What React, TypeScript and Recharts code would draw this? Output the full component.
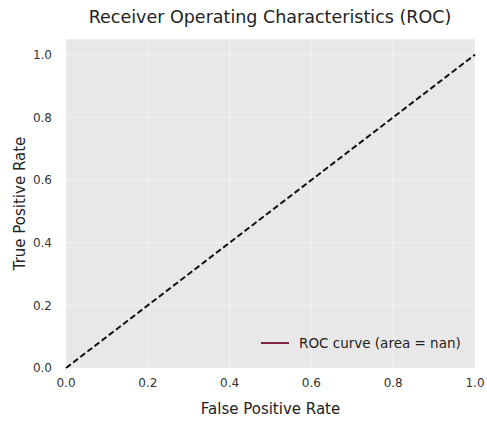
import { LineChart, Line, XAxis, YAxis, CartesianGrid, Legend } from 'recharts';

// ROC curve could not be computed (area = nan), only the chance diagonal is drawn
const fprValues = [0, 1];
const chanceTpr = [0, 1];
const rocTpr: (number | null)[] = [null, null];

const xTicks = [0, 0.2, 0.4, 0.6, 0.8, 1.0];
const yTicks = [0, 0.2, 0.4, 0.6, 0.8, 1.0];

const data = fprValues.map((fpr, i) => ({ fpr, chance: chanceTpr[i], roc: rocTpr[i] }));

const FONT = '"DejaVu Sans", sans-serif';
const fmt = (v: number) => v.toFixed(1);

function RocLegend({ payload }: any) {
  const items = (payload || []).filter((item: any) => item.type !== 'none');
  return (
    <div style={{ display: 'flex', flexDirection: 'column', fontFamily: FONT }}>
      {items.map((item: any) => (
        <div key={item.value} style={{ display: 'flex', alignItems: 'center' }}>
          <svg width={30} height={10}>
            <line x1={0} y1={5} x2={28} y2={5} stroke={item.color} strokeWidth={2} />
          </svg>
          <span style={{ marginLeft: 8, fontSize: 13.5, color: '#222' }}>{item.value}</span>
        </div>
      ))}
    </div>
  );
}

export default function App() {
  return (
    <div style={{ position: 'absolute', left: 0, top: 0, width: 487, height: 421, background: '#fff', fontFamily: FONT }}>
      <LineChart width={487} height={421} data={data} margin={{ top: 39, right: 12, bottom: 0, left: 0 }}>
        <text x={270} y={23} textAnchor="middle" fontSize={17.5} fill="#222" fontFamily={FONT}>
          Receiver Operating Characteristics (ROC)
        </text>
        <CartesianGrid fill="#e8e8e8" stroke="#ffffff" strokeOpacity={0.45} strokeWidth={1} />
        <XAxis
          dataKey="fpr"
          type="number"
          domain={[0, 1]}
          ticks={xTicks}
          tickFormatter={fmt}
          axisLine={false}
          tickLine={false}
          tickSize={0}
          tickMargin={10}
          tick={{ fontSize: 12, fill: '#333', fontFamily: FONT }}
          label={{ value: 'False Positive Rate', position: 'insideBottom', offset: 7, fontSize: 15, fill: '#222', fontFamily: FONT }}
          height={53}
        />
        <YAxis
          type="number"
          domain={[0, 1.05]}
          ticks={yTicks}
          tickFormatter={fmt}
          axisLine={false}
          tickLine={false}
          tickSize={0}
          tickMargin={14}
          width={66}
          tick={{ fontSize: 12, fill: '#333', fontFamily: FONT }}
          label={{
            value: 'True Positive Rate',
            angle: -90,
            position: 'insideLeft',
            offset: 20,
            fontSize: 15,
            fill: '#222',
            fontFamily: FONT,
            style: { textAnchor: 'middle' },
          }}
        />
        <Line
          dataKey="roc"
          name="ROC curve (area = nan)"
          stroke="#7a2a3c"
          strokeWidth={2}
          dot={false}
          legendType="plainline"
          isAnimationActive={false}
        />
        <Line
          dataKey="chance"
          stroke="#111"
          strokeWidth={2}
          strokeDasharray="6 3"
          dot={false}
          legendType="none"
          isAnimationActive={false}
        />
        <Legend
          layout="horizontal"
          align="center"
          verticalAlign="middle"
          content={<RocLegend />}
          wrapperStyle={{ left: 261, top: 335, width: 'auto' }}
        />
      </LineChart>
    </div>
  );
}
